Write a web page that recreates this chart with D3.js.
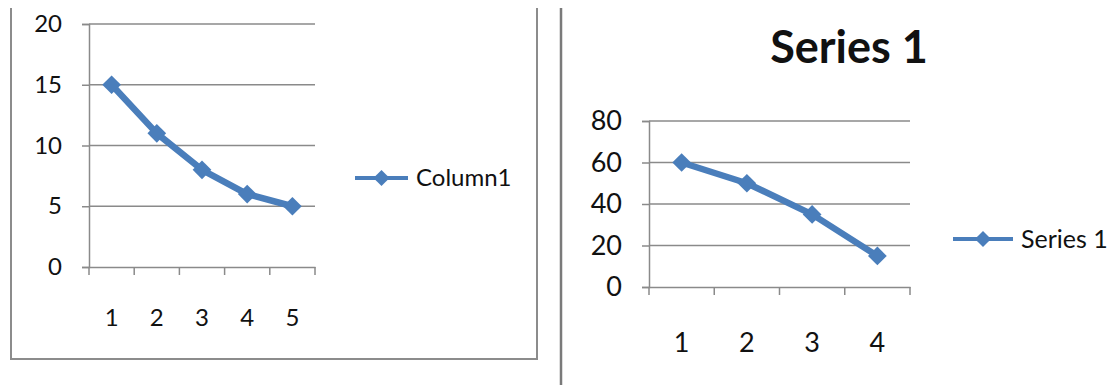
<!DOCTYPE html>
<html>
<head>
<meta charset="utf-8">
<script src="https://cdn.jsdelivr.net/npm/d3@7"></script>
<style>
  html, body { margin: 0; padding: 0; background: #fff; }
  svg { display: block; }
  text { font-family: Lato, "Open Sans", sans-serif; fill: #111; }
</style>
</head>
<body>
<svg id="chart" width="1115" height="385"></svg>
<script>
// Left chart: Column1
const categoriesA = [1, 2, 3, 4, 5];
const valuesA = [15, 11, 8, 6, 5];
const yTicksA = [0, 5, 10, 15, 20];
const seriesNameA = "Column1";

// Right chart: Series 1
const categoriesB = [1, 2, 3, 4];
const valuesB = [60, 50, 35, 15];
const yTicksB = [0, 20, 40, 60, 80];
const seriesNameB = "Series 1";
const titleB = "Series 1";

const BLUE = "#4a7ebb";
const GRID = "#8a8a8a";
const svg = d3.select("#chart");

// frame around the left chart and the divider between charts
const frame = svg.append("g").attr("fill", "none").attr("stroke", "#8c8c8c").attr("stroke-width", 2);
frame.append("path").attr("d", "M11,8 V359 H537 V8");
svg.append("line").attr("x1", 561).attr("x2", 561).attr("y1", 8).attr("y2", 385)
  .attr("stroke", "#7a7a7a").attr("stroke-width", 2.5);

function drawChart(cfg) {
  const g = svg.append("g");
  const x = d3.scaleBand().domain(cfg.categories).range([cfg.x0, cfg.x1]).padding(0);
  const y = d3.scaleLinear().domain([cfg.yTicks[0], cfg.yTicks[cfg.yTicks.length - 1]]).range([cfg.y0, cfg.y1]);

  // horizontal gridlines
  g.append("g").selectAll("line").data(cfg.yTicks.slice(1)).join("line")
    .attr("x1", cfg.x0).attr("x2", cfg.x1)
    .attr("y1", d => y(d)).attr("y2", d => y(d))
    .attr("stroke", GRID).attr("stroke-width", 1.5);

  // y axis
  const ya = g.append("g").attr("transform", `translate(${cfg.x0},0)`)
    .call(d3.axisLeft(y).tickValues(cfg.yTicks).tickSize(7).tickPadding(cfg.yPad));
  ya.select(".domain").attr("stroke", GRID).attr("stroke-width", 1.5);
  ya.selectAll(".tick line").attr("stroke", GRID).attr("stroke-width", 1.5);
  ya.selectAll(".tick text").style("font-size", cfg.tickFont + "px").attr("fill", "#111")
    .style("font-family", "Lato, sans-serif");

  // x axis: labels centred in bands, ticks on band edges
  const xa = g.append("g").attr("transform", `translate(0,${cfg.y0})`)
    .call(d3.axisBottom(x).tickSize(0).tickPadding(cfg.xPad));
  xa.select(".domain").attr("stroke", GRID).attr("stroke-width", 1.5);
  xa.selectAll(".tick text").style("font-size", cfg.tickFont + "px").attr("fill", "#111")
    .style("font-family", "Lato, sans-serif");
  const edges = cfg.categories.map(c => x(c)).concat([x(cfg.categories[cfg.categories.length - 1]) + x.bandwidth()]);
  g.append("g").selectAll("line").data(edges).join("line")
    .attr("x1", d => d).attr("x2", d => d)
    .attr("y1", cfg.y0).attr("y2", cfg.y0 + 8)
    .attr("stroke", GRID).attr("stroke-width", 1.5);

  // series line + diamond markers
  const pts = cfg.categories.map((c, i) => [x(c) + x.bandwidth() / 2, y(cfg.values[i])]);
  g.append("path").datum(pts)
    .attr("d", d3.line())
    .attr("fill", "none").attr("stroke", BLUE).attr("stroke-width", 6.5)
    .attr("stroke-linejoin", "round");
  const diamond = d3.symbol().type(d3.symbolSquare).size(175);
  g.append("g").selectAll("path").data(pts).join("path")
    .attr("d", diamond)
    .attr("transform", d => `translate(${d[0]},${d[1]}) rotate(45)`)
    .attr("fill", BLUE);

  // legend
  const lg = g.append("g").attr("transform", `translate(${cfg.legX},${cfg.legY})`);
  lg.append("line").attr("x1", 0).attr("x2", cfg.legLen).attr("y1", 0).attr("y2", 0)
    .attr("stroke", BLUE).attr("stroke-width", 4);
  lg.append("path").attr("d", d3.symbol().type(d3.symbolSquare).size(130))
    .attr("transform", `translate(${cfg.legLen / 2},0) rotate(45)`).attr("fill", BLUE);
  lg.append("text").attr("x", cfg.legLen + 8).attr("y", 0).attr("dy", "0.35em")
    .style("font-size", cfg.legFont + "px").text(cfg.name);

  if (cfg.title) {
    g.append("text").attr("x", cfg.titleX).attr("y", cfg.titleY)
      .attr("text-anchor", "middle").style("font-size", cfg.titleFont + "px")
      .style("font-weight", "bold").text(cfg.title);
  }
}

drawChart({
  categories: categoriesA, values: valuesA, yTicks: yTicksA, name: seriesNameA,
  x0: 89, x1: 315, y0: 267, y1: 24,
  yPad: 20, xPad: 42, tickFont: 24,
  legX: 355, legY: 178, legLen: 53, legFont: 24
});

drawChart({
  categories: categoriesB, values: valuesB, yTicks: yTicksB, name: seriesNameB,
  x0: 649, x1: 910, y0: 287, y1: 121,
  yPad: 20, xPad: 46, tickFont: 27,
  legX: 953, legY: 239, legLen: 60, legFont: 25,
  title: titleB, titleX: 849, titleY: 63, titleFont: 45
});
</script>
</body>
</html>
